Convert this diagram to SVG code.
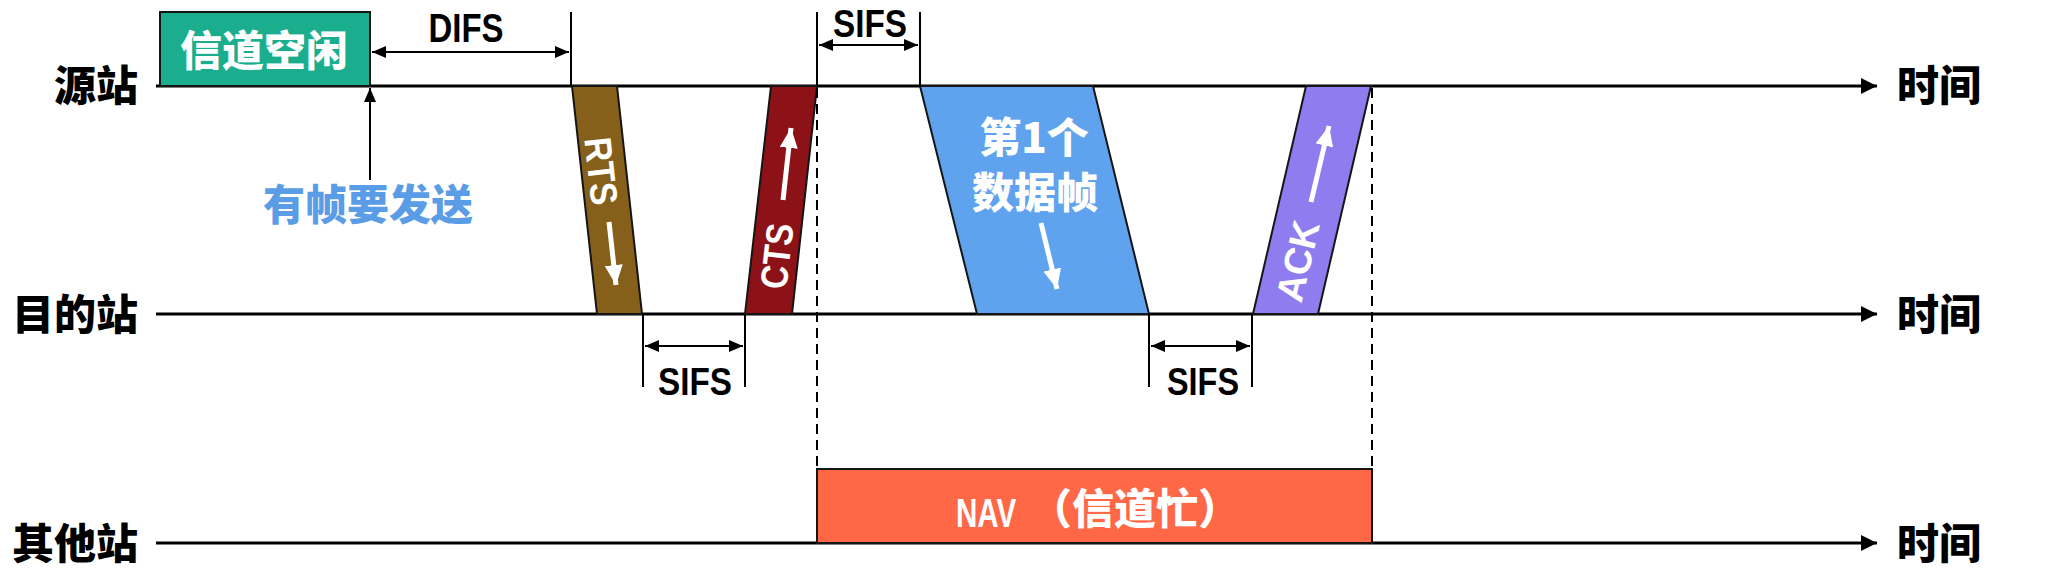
<svg xmlns="http://www.w3.org/2000/svg" width="2053" height="573" viewBox="0 0 2053 573">
<defs>
<marker id="ab" viewBox="0 0 14 12" refX="14" refY="6" markerWidth="14" markerHeight="12" markerUnits="userSpaceOnUse" orient="auto-start-reverse"><path d="M0,0 L14,6 L0,12 z" fill="#000"/></marker>
<marker id="at" viewBox="0 0 16 16" refX="16" refY="8" markerWidth="16" markerHeight="16" markerUnits="userSpaceOnUse" orient="auto"><path d="M0,0 L16,8 L0,16 z" fill="#000"/></marker>
<marker id="aw" viewBox="0 0 20 18" refX="20" refY="9" markerWidth="20" markerHeight="18" markerUnits="userSpaceOnUse" orient="auto"><path d="M0,0 L20,9 L0,18 z" fill="#fff"/></marker>
</defs>
<style>
.cjk{font-family:"Noto Sans CJK SC","Noto Sans CJK TC",sans-serif;font-weight:900;font-size:42px}
.lat{font-family:"Liberation Sans",Arial,sans-serif;font-weight:700}
.axis{stroke:#000;stroke-width:3;fill:none}
.dim{stroke:#000;stroke-width:2;fill:none}
.dash{stroke:#000;stroke-width:2;stroke-dasharray:10 6;fill:none}
.frame{stroke:#151515;stroke-width:2}
.warr{stroke:#fff;stroke-width:5;fill:none}
.wt{fill:#fff}
</style>
<rect width="2053" height="573" fill="#fff"/>

<g id="axes">
<line class="axis" x1="156" y1="86" x2="1877" y2="86" marker-end="url(#at)"/>
<line class="axis" x1="156" y1="314" x2="1877" y2="314" marker-end="url(#at)"/>
<line class="axis" x1="156" y1="543" x2="1877" y2="543" marker-end="url(#at)"/>
<text class="cjk" x="138" y="101" text-anchor="end">源站</text>
<text class="cjk" x="138" y="330" text-anchor="end">目的站</text>
<text class="cjk" x="138" y="559" text-anchor="end">其他站</text>
<text class="cjk" x="1897" y="101">时间</text>
<text class="cjk" x="1897" y="330">时间</text>
<text class="cjk" x="1897" y="559">时间</text>
</g>

<g id="idle">
<rect x="160" y="12" width="210" height="74" fill="#1BAE8E" class="frame"/>
<text class="cjk wt" x="264" y="66" text-anchor="middle">信道空闲</text>
</g>

<g id="send">
<text class="cjk" x="368" y="220" text-anchor="middle" fill="#5A9CE6">有帧要发送</text>
</g>

<g id="rts">
<polygon class="frame" points="572,86 617,86 642,314 597,314" fill="#86601A"/>
<text class="lat wt" font-size="38" text-anchor="middle" textLength="68" lengthAdjust="spacingAndGlyphs" transform="translate(602,171) rotate(83.7)" x="0" y="14">RTS</text>
<line class="warr" x1="609" y1="222" x2="616" y2="285" marker-end="url(#aw)"/>
</g>

<g id="cts">
<polygon class="frame" points="771,86 817,86 792,314 745,314" fill="#8C1218"/>
<text class="lat wt" font-size="38" text-anchor="middle" textLength="66" lengthAdjust="spacingAndGlyphs" transform="translate(776,256) rotate(-83.5)" x="0" y="14">CTS</text>
<line class="warr" x1="783" y1="200" x2="791" y2="128" marker-end="url(#aw)"/>
</g>

<g id="data">
<polygon class="frame" points="920,86 1093,86 1149,314 977,314" fill="#5FA3EE"/>
<text class="cjk wt" x="1034" y="153" text-anchor="middle">第1个</text>
<text class="cjk wt" x="1035" y="208" text-anchor="middle">数据帧</text>
<line class="warr" x1="1041" y1="223" x2="1057" y2="289" marker-end="url(#aw)"/>
</g>

<g id="ack">
<polygon class="frame" points="1306,86 1371,86 1318,314 1253,314" fill="#8F7DF0"/>
<text class="lat wt" font-size="38" text-anchor="middle" textLength="82" lengthAdjust="spacingAndGlyphs" transform="translate(1297,261) rotate(-76.7)" x="0" y="14">ACK</text>
<line class="warr" x1="1311" y1="202" x2="1329" y2="126" marker-end="url(#aw)"/>
</g>

<g id="nav">
<rect x="817" y="469" width="555" height="74" fill="#FF6847" class="frame"/>
<text class="lat wt" font-size="40" transform="translate(956,527) scale(0.74,1)">NAV</text>
<text class="cjk wt" font-size="40" x="1030" y="524">（信道忙）</text>
</g>

<g id="connectors">
<line class="dim" x1="370" y1="180" x2="370" y2="88" marker-end="url(#ab)"/>
<line class="dim" x1="571" y1="12" x2="571" y2="86"/>
<line class="dim" x1="372" y1="52" x2="569" y2="52" marker-start="url(#ab)" marker-end="url(#ab)"/>
<text class="lat" font-size="40" x="466" y="42" text-anchor="middle" textLength="75" lengthAdjust="spacingAndGlyphs">DIFS</text>
<line class="dim" x1="817" y1="12" x2="817" y2="86"/>
<line class="dim" x1="920" y1="12" x2="920" y2="86"/>
<line class="dim" x1="819" y1="45" x2="918" y2="45" marker-start="url(#ab)" marker-end="url(#ab)"/>
<text class="lat" font-size="38" x="870" y="37" text-anchor="middle" textLength="74" lengthAdjust="spacingAndGlyphs">SIFS</text>
<line class="dim" x1="643" y1="314" x2="643" y2="387"/>
<line class="dim" x1="745" y1="314" x2="745" y2="387"/>
<line class="dim" x1="645" y1="346" x2="743" y2="346" marker-start="url(#ab)" marker-end="url(#ab)"/>
<text class="lat" font-size="38" x="695" y="395" text-anchor="middle" textLength="74" lengthAdjust="spacingAndGlyphs">SIFS</text>
<line class="dim" x1="1149" y1="314" x2="1149" y2="387"/>
<line class="dim" x1="1252" y1="314" x2="1252" y2="387"/>
<line class="dim" x1="1151" y1="346" x2="1250" y2="346" marker-start="url(#ab)" marker-end="url(#ab)"/>
<text class="lat" font-size="38" x="1203" y="395" text-anchor="middle" textLength="72" lengthAdjust="spacingAndGlyphs">SIFS</text>
<line class="dash" x1="817" y1="88" x2="817" y2="469"/>
<line class="dash" x1="1372" y1="88" x2="1372" y2="469"/>
</g>
</svg>
